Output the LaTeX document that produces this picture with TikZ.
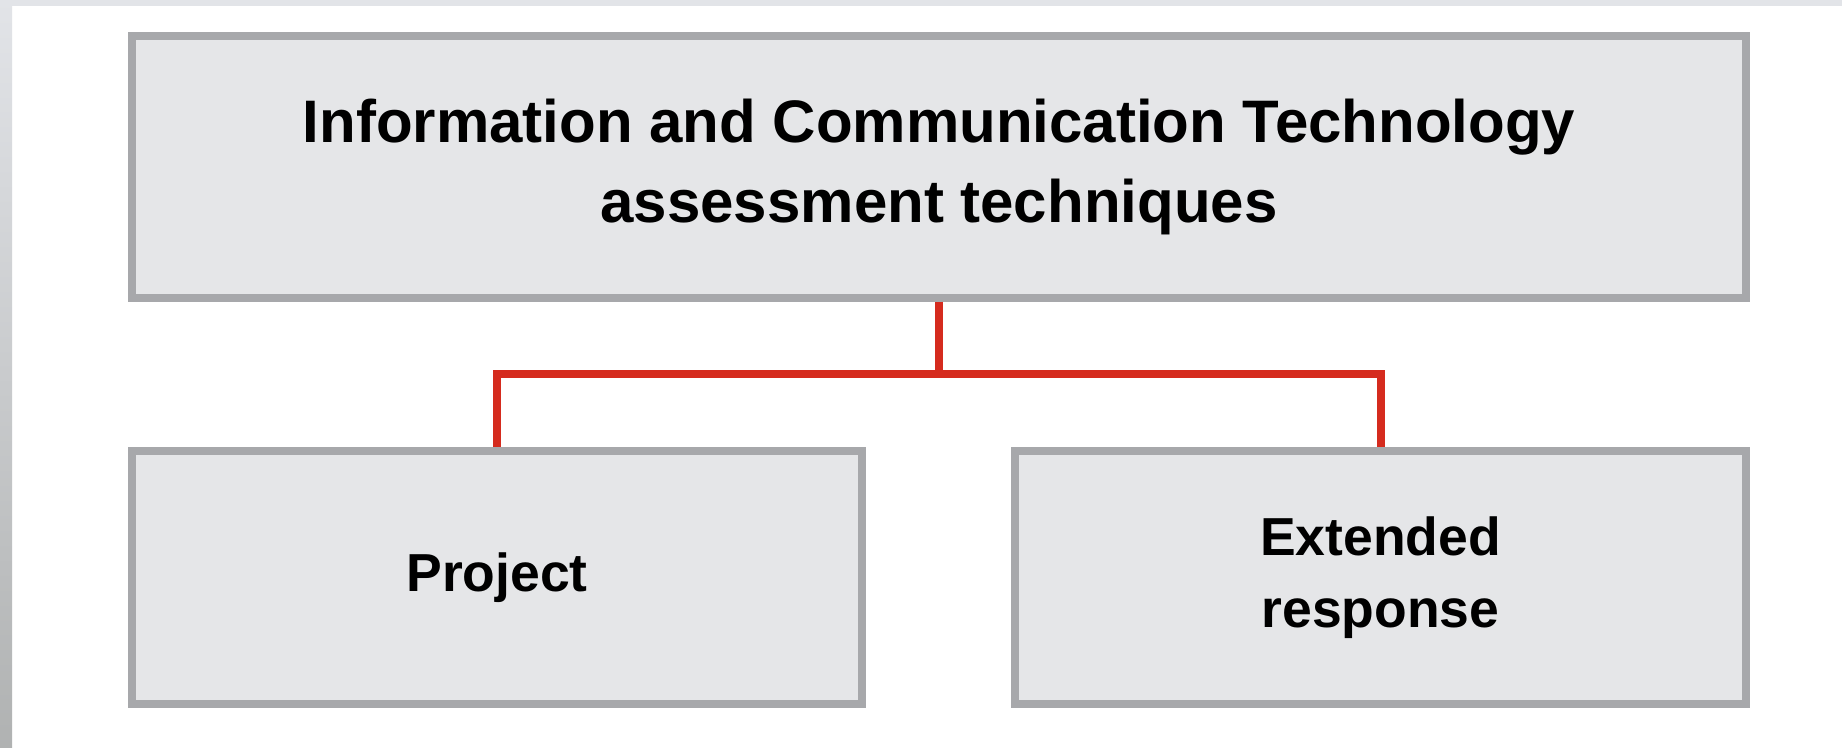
\documentclass[tikz,border=0pt]{standalone}
\usepackage{fontspec}
\setmainfont{Liberation Sans}
\usepackage{tikz}
\usetikzlibrary{calc}
\definecolor{boxfill}{HTML}{E5E6E8}
\definecolor{boxline}{HTML}{A7A8AB}
\definecolor{linkred}{HTML}{D52B1E}
\definecolor{stripgray}{HTML}{E2E4E8}
\definecolor{stripdark}{HTML}{B0B2B2}
\tikzset{
    techbox/.style={draw=boxline, fill=boxfill, line width=7.5pt, rectangle,
        inner sep=0pt, align=center, text=black},
    headtext/.style={font=\fontsize{60}{80}\selectfont\bfseries},
    subtext/.style={font=\fontsize{53.5}{72}\selectfont\bfseries},
    link/.style={draw=linkred, line width=8pt}
}

\begin{document}
\begin{tikzpicture}[x=1pt,y=1pt]
\useasboundingbox (0,0) rectangle (1842,747);
\fill[white] (0,0) rectangle (1842,747);
\fill[stripgray] (0,741) rectangle (1842,747);
\shade[top color=stripgray, bottom color=stripdark] (0,0) rectangle (12,747);

\node[techbox, headtext, minimum width=1614pt, minimum height=262pt] (ict) at (939,580)
    {Information and Communication Technology\\assessment techniques};
\node[techbox, subtext, minimum width=730pt, minimum height=253pt] (project) at (497,169.5)
    {Project};
\node[techbox, subtext, minimum width=731pt, minimum height=253pt] (extended) at (1380.5,169.5)
    {Extended\\response};

\coordinate (fork) at (939,373);

\draw[link] (ict.south) -- (fork);
\draw[link] (fork) -| (project.north);
\draw[link] (fork) -| (extended.north);
\end{tikzpicture}
\end{document}
